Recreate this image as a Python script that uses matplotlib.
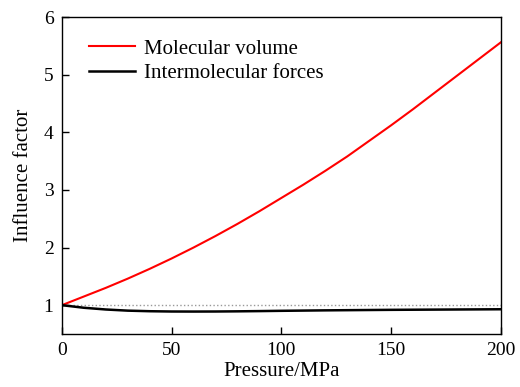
import matplotlib
matplotlib.use('Agg')
import matplotlib.pyplot as plt

plt.rcParams['font.family'] = ['Liberation Serif', 'DejaVu Serif']

# pressure grid (MPa) and influence factors
pressure = [0, 10, 20, 30, 40, 50, 60, 70, 80, 90, 100,
            110, 120, 130, 140, 150, 160, 170, 180, 190, 200]
molecular_volume = [1.00, 1.15, 1.30, 1.46, 1.63, 1.81, 2.00, 2.20, 2.41, 2.63, 2.86,
                    3.09, 3.33, 3.58, 3.85, 4.12, 4.40, 4.69, 4.98, 5.27, 5.56]
intermolecular_forces = [1.00, 0.955, 0.925, 0.905, 0.895, 0.890, 0.889, 0.890, 0.893, 0.897, 0.902,
                         0.906, 0.910, 0.913, 0.916, 0.919, 0.921, 0.923, 0.925, 0.927, 0.929]

fig = plt.figure(figsize=(5.2, 3.87), dpi=100)
ax = fig.add_axes([0.119, 0.137, 0.844, 0.819])

ax.axhline(1.0, color='#999999', linestyle=':', linewidth=1.0, zorder=1)
ax.plot(pressure, molecular_volume, color='#ff0000', linewidth=1.5, label='Molecular volume')
ax.plot(pressure, intermolecular_forces, color='black', linewidth=1.8, label='Intermolecular forces')

ax.set_xlim(0, 200)
ax.set_ylim(0.5, 6)
ax.set_xticks([0, 50, 100, 150, 200])
ax.set_yticks([1, 2, 3, 4, 5, 6])
ax.tick_params(direction='in', length=5, width=1, labelsize=14, pad=6)
for s in ax.spines.values():
    s.set_linewidth(1.0)

ax.set_xlabel('Pressure/MPa', fontsize=15, labelpad=2)
ax.set_ylabel('Influence factor', fontsize=15, labelpad=8)

ax.legend(loc='upper left', bbox_to_anchor=(0.02, 0.99), frameon=False, fontsize=15,
          handlelength=2.2, handletextpad=0.4, labelspacing=0.25, borderaxespad=0.5)

fig.savefig('out.png', dpi=100)
